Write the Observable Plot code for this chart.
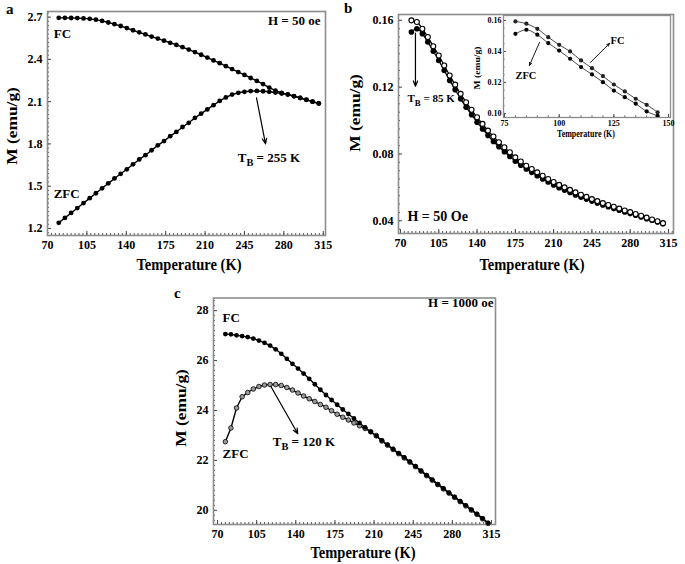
<!DOCTYPE html>
<html><head><meta charset="utf-8">
<script src="https://cdn.jsdelivr.net/npm/d3@7"></script>
<script src="https://cdn.jsdelivr.net/npm/@observablehq/plot@0.6"></script>
<style>
body{margin:0;background:#fff;}
#fig{position:relative;width:685px;height:564px;overflow:hidden;background:#fff;}
.pn{position:absolute;}
</style></head><body><div id="fig"></div>
<script>
// ---------- data ----------
const xTickLabels = [70,105,140,175,210,245,280,315];
const aYTicks = [1.2,1.5,1.8,2.1,2.4,2.7];
const bYTicks = [0.04,0.08,0.12,0.16];
const cYTicks = [20,22,24,26,28];
const insetXTicks = [75,100,125,150];
const insetYTicks = [0.10,0.12,0.14,0.16];

// panel a (H = 50 oe)
const aT = [80,85.5,91,96.5,102,107.5,113,118.5,124,129.5,135,140.5,146,151.5,157,162.5,168,173.5,179,184.5,190,195.5,201,206.5,212,217.5,223,228.5,234,239.5,245,250.5,256,261.5,267,272.5,278,283.5,289,294.5,300,305.5,311];
const aFC = [2.695,2.695,2.694,2.693,2.691,2.688,2.682,2.673,2.662,2.65,2.637,2.622,2.607,2.592,2.577,2.562,2.548,2.533,2.518,2.503,2.487,2.47,2.452,2.433,2.413,2.393,2.373,2.352,2.331,2.31,2.29,2.268,2.247,2.225,2.2,2.178,2.163,2.152,2.14,2.127,2.114,2.1,2.088];
const aZFC = [1.24,1.275,1.31,1.345,1.38,1.415,1.45,1.485,1.52,1.555,1.588,1.62,1.655,1.69,1.72,1.755,1.79,1.82,1.855,1.885,1.92,1.95,1.985,2.015,2.045,2.075,2.105,2.13,2.15,2.163,2.17,2.175,2.176,2.174,2.17,2.165,2.158,2.15,2.138,2.126,2.113,2.1,2.087];

// panel b (H = 50 Oe)
const bT = [80,85,90,95,100,105,110,115,120,125,130,135,140,145,150,155,160,165,170,175,180,185,190,195,200,205,210,215,220,225,230,235,240,245,250,255,260,265,270,275,280,285,290,295,300,305,310];
const bFC = [0.160,0.159,0.155,0.150,0.1445,0.139,0.133,0.127,0.1215,0.116,0.111,0.1065,0.102,0.098,0.094,0.0905,0.087,0.084,0.081,0.078,0.0755,0.073,0.071,0.069,0.067,0.065,0.0632,0.0615,0.060,0.0585,0.057,0.0556,0.0543,0.053,0.0518,0.0506,0.0495,0.0484,0.0473,0.0462,0.0452,0.0441,0.0430,0.0419,0.0408,0.0397,0.0386];
const bZFC = [0.153,0.155,0.152,0.147,0.1415,0.136,0.130,0.124,0.1185,0.113,0.108,0.1035,0.099,0.095,0.091,0.0875,0.0843,0.0813,0.0785,0.0757,0.0733,0.071,0.069,0.067,0.065,0.0632,0.0615,0.0598,0.0583,0.0569,0.0555,0.0542,0.053,0.0518,0.0506,0.0495,0.0484,0.0473,0.0463,0.0453,0.0443,0.0433,0.0423,0.0413,0.0403,0.0393,0.0383];

// inset of panel b
const insetT = [80,85,90,95,100,105,110,115,120,125,130,135,140,145];
const insetFC = [0.1594,0.1579,0.1546,0.1492,0.1443,0.1400,0.1342,0.1292,0.1241,0.1187,0.1142,0.1095,0.1056,0.1008];
const insetZFC = [0.1514,0.1540,0.1508,0.1454,0.1406,0.1353,0.1299,0.1252,0.1202,0.1148,0.1105,0.1063,0.1013,0.0985];

// panel c (H = 1000 oe)
const cT = [77,82,87,92,97,102,107,112,117,122,127,132,137,142,147,152,157,162,167,172,177,182,187,192,197,202,207,212,217,222,227,232,237,242,247,252,257,262,267,272,277,282,287,292,297,302,307,312];
const cFC = [27.06,27.05,27.01,26.98,26.94,26.88,26.8,26.71,26.6,26.45,26.27,26.07,25.87,25.68,25.48,25.27,25.05,24.83,24.62,24.42,24.23,24.04,23.86,23.68,23.5,23.32,23.14,22.97,22.8,22.63,22.46,22.29,22.12,21.95,21.77,21.59,21.41,21.23,21.05,20.88,20.71,20.54,20.37,20.2,20.03,19.86,19.68,19.5];
const cZFC = [22.75,23.3,24.1,24.55,24.72,24.86,24.96,25.02,25.04,25.04,25.0,24.92,24.82,24.7,24.58,24.47,24.36,24.24,24.13,23.99,23.85,23.73,23.62,23.5,23.39,23.28,23.15,23.0,22.78,22.61,22.44,22.27,22.1,21.93,21.75,21.57,21.39,21.21,21.03,20.86,20.69,20.52,20.35,20.18,20.01,19.84,19.66,19.48];

// annotations (data coordinates)
const aLabels = ["FC","ZFC","H = 50 oe","T_B = 255 K"];
const aLabelX = [75.5,75.5,312.5,239];
const aLabelY = [2.58,1.447,2.672,1.70];
const aLabelAnchor = ["start","start","end","start"];
const aArrow = [255.7,2.127,263.7,1.801];

const bLabels = ["T_B = 85 K","H = 50 Oe"];
const bLabelX = [76.4,76.4];
const bLabelY = [0.113,0.0424];
const bLabelSize = [11,14];
const bArrow = [83.7,0.1524,83.7,0.1206];

const insetLabels = ["FC","ZFC"];
const insetLabelX = [123.5,80];
const insetLabelY = [0.1471,0.1245];
const insetArrowFC = [114.3,0.1329,123.0,0.1452];
const insetArrowZFC = [91.0,0.1458,86.4,0.131];

const cLabels = ["FC","ZFC","H = 1000 oe","T_B = 120 K"];
const cLabelX = [74.5,74.5,316.9,119.4];
const cLabelY = [27.72,22.26,28.32,22.75];
const cLabelAnchor = ["start","start","end","start"];
const cArrow = [117.6,24.97,141.8,23.07];

// ---------- helpers ----------
const SERIF = '"Liberation Serif","Times New Roman",Times,serif';
const fig = document.getElementById("fig");
const rows = (T, M) => T.map((t, i) => ({T: t, M: M[i]}));
const labelRows = (L, X, Y, A, S) => L.map((t, i) => ({t, x: X[i], y: Y[i], a: A ? A[i] : "start", s: S ? S[i] : 13}));
const arrowRow = a => [{x1: a[0], y1: a[1], x2: a[2], y2: a[3]}];
const minor = (lo, hi, step) => d3.range(Math.ceil(lo / step - 1e-9), Math.floor(hi / step + 1e-9) + 1).map(k => +(k * step).toFixed(6));

function subscriptify(svg) {
  d3.select(svg).selectAll("text").each(function() {
    const s = this.textContent;
    if (s.startsWith("T_B")) {
      const rest = s.slice(3);
      const sel = d3.select(this);
      sel.text(null);
      sel.append("tspan").text("T");
      sel.append("tspan").attr("dy", 4).attr("font-size", "0.8em").text("B");
      sel.append("tspan").attr("dy", -4).text(rest);
    }
  });
}

function textMarks(rowsArr) {
  const st = rowsArr.filter(d => d.a === "start");
  const en = rowsArr.filter(d => d.a === "end");
  return [
    Plot.text(st, {x: "x", y: "y", text: "t", textAnchor: "start", fontSize: "s", fontWeight: "bold", fill: "#000"}),
    Plot.text(en, {x: "x", y: "y", text: "t", textAnchor: "end", fontSize: "s", fontWeight: "bold", fill: "#000"})
  ];
}

function axesMarks(cfg) {
  const {xTicks, yTicks, xMinor, yMinor, fs, fmtX, fmtY, tickLen = 4, minorLen = 2, padX = 5, padY = 5} = cfg;
  return [
    Plot.axisX({ticks: xMinor, tickSize: -minorLen, text: null, label: null, stroke: "#555"}),
    Plot.axisX({ticks: xTicks, tickSize: -tickLen, text: null, label: null, stroke: "#444"}),
    Plot.axisX({ticks: xTicks, tickSize: 0, tickPadding: padX, label: null, fontSize: fs, fontWeight: "bold", tickFormat: fmtX}),
    Plot.axisY({ticks: yMinor, tickSize: -minorLen, text: null, label: null, stroke: "#555"}),
    Plot.axisY({ticks: yTicks, tickSize: -tickLen, text: null, label: null, stroke: "#444"}),
    Plot.axisY({ticks: yTicks, tickSize: 0, tickPadding: padY, label: null, fontSize: fs, fontWeight: "bold", tickFormat: fmtY})
  ];
}

function place(plot, left, top) {
  const d = document.createElement("div");
  d.className = "pn";
  d.style.left = left + "px";
  d.style.top = top + "px";
  d.appendChild(plot);
  fig.appendChild(d);
  subscriptify(plot);
}

const frameMark = (w = 1.6) => Plot.frame({stroke: "#8c8c8c", strokeWidth: w, fill: "none"});
const baseStyle = fs => ({fontFamily: SERIF, fontWeight: "bold", fontSize: fs + "px", color: "#000", background: "transparent", overflow: "visible"});

// ---------- panel a ----------
{
  const plot = Plot.plot({
    width: 340, height: 280, marginLeft: 47, marginRight: 15, marginTop: 11, marginBottom: 45,
    x: {domain: [70, 317]}, y: {domain: [1.15, 2.74]},
    style: baseStyle(12),
    marks: [
      ...axesMarks({xTicks: xTickLabels, yTicks: aYTicks, xMinor: minor(70, 317, 3.5), yMinor: minor(1.15, 2.74, 0.03), fs: 12, fmtX: d3.format("d"), fmtY: d3.format(".1f")}),
      frameMark(),
      Plot.line(rows(aT, aFC), {x: "T", y: "M", stroke: "#000", strokeWidth: 1.4}),
      Plot.line(rows(aT, aZFC), {x: "T", y: "M", stroke: "#000", strokeWidth: 1.4}),
      Plot.dot(rows(aT, aFC), {x: "T", y: "M", r: 2.4, fill: "#000"}),
      Plot.dot(rows(aT, aZFC), {x: "T", y: "M", r: 2.4, fill: "#000"}),
      Plot.arrow(arrowRow(aArrow), {x1: "x1", y1: "y1", x2: "x2", y2: "y2", stroke: "#000", strokeWidth: 1.2, headLength: 7, headAngle: 45}),
      ...textMarks(labelRows(aLabels, aLabelX, aLabelY, aLabelAnchor))
    ]
  });
  place(plot, 0, 0);
}

// ---------- panel b ----------
{
  const plot = Plot.plot({
    width: 345, height: 280, marginLeft: 58, marginRight: 12, marginTop: 14, marginBottom: 47,
    x: {domain: [68.2, 319.6]}, y: {domain: [0.0324, 0.1635]},
    style: baseStyle(12),
    marks: [
      ...axesMarks({xTicks: xTickLabels, yTicks: bYTicks, xMinor: minor(70, 319, 3.5), yMinor: minor(0.0324, 0.1635, 0.005), fs: 12, fmtX: d3.format("d"), fmtY: d3.format(".2f")}),
      frameMark(),
      Plot.line(rows(bT, bZFC), {x: "T", y: "M", stroke: "#000", strokeWidth: 1.2, curve: "catmull-rom"}),
      Plot.line(rows(bT, bFC), {x: "T", y: "M", stroke: "#000", strokeWidth: 1.2, curve: "catmull-rom"}),
      Plot.dot(rows(bT, bZFC), {x: "T", y: "M", r: 2.8, fill: "#000"}),
      Plot.dot(rows(bT, bFC), {x: "T", y: "M", r: 2.5, fill: "#fff", stroke: "#000", strokeWidth: 1.1}),
      Plot.arrow(arrowRow(bArrow), {x1: "x1", y1: "y1", x2: "x2", y2: "y2", stroke: "#000", strokeWidth: 1.2, headLength: 7, headAngle: 45}),
      ...textMarks(labelRows(bLabels, bLabelX, bLabelY, null, bLabelSize))
    ]
  });
  place(plot, 340, 0);
}

// ---------- inset ----------
{
  const plot = Plot.plot({
    width: 215, height: 140, marginLeft: 38, marginRight: 10, marginTop: 10, marginBottom: 28,
    x: {domain: [74.54, 150.9]}, y: {domain: [0.0974, 0.1632]},
    style: baseStyle(8),
    marks: [
      Plot.frame({fill: "#fff", stroke: null}),
      ...axesMarks({xTicks: insetXTicks, yTicks: insetYTicks, xMinor: minor(75, 150, 5), yMinor: minor(0.098, 0.163, 0.005), fs: 8, fmtX: d3.format("d"), fmtY: d3.format(".2f"), tickLen: 3, minorLen: 1.5, padX: 3, padY: 2}),
      frameMark(1.3),
      Plot.line(rows(insetT, insetFC), {x: "T", y: "M", stroke: "#333", strokeWidth: 0.9, curve: "catmull-rom", clip: true}),
      Plot.line(rows(insetT, insetZFC), {x: "T", y: "M", stroke: "#333", strokeWidth: 0.9, curve: "catmull-rom", clip: true}),
      Plot.dot(rows(insetT, insetFC), {x: "T", y: "M", r: 2.1, fill: "#222", clip: true}),
      Plot.dot(rows(insetT, insetZFC), {x: "T", y: "M", r: 2.1, fill: "#000", clip: true}),
      Plot.arrow(arrowRow(insetArrowFC), {x1: "x1", y1: "y1", x2: "x2", y2: "y2", stroke: "#000", strokeWidth: 0.9, headLength: 5, headAngle: 45}),
      Plot.arrow(arrowRow(insetArrowZFC), {x1: "x1", y1: "y1", x2: "x2", y2: "y2", stroke: "#000", strokeWidth: 0.9, headLength: 5, headAngle: 45}),
      ...textMarks(labelRows(insetLabels, insetLabelX, insetLabelY, null, [10.5, 10.5]))
    ]
  });
  place(plot, 465, 5);
}

// ---------- panel c ----------
{
  const plot = Plot.plot({
    width: 340, height: 279, marginLeft: 43, marginRight: 15, marginTop: 12.5, marginBottom: 40,
    x: {domain: [66.4, 318.6]}, y: {domain: [19.434, 28.505]},
    style: baseStyle(12),
    marks: [
      ...axesMarks({xTicks: xTickLabels, yTicks: cYTicks, xMinor: minor(70, 318, 3.5), yMinor: minor(19.5, 28.5, 0.2), fs: 12, fmtX: d3.format("d"), fmtY: d3.format("d")}),
      frameMark(),
      Plot.line(rows(cT, cZFC), {x: "T", y: "M", stroke: "#000", strokeWidth: 1.4}),
      Plot.line(rows(cT, cFC), {x: "T", y: "M", stroke: "#000", strokeWidth: 1.4}),
      Plot.dot(rows(cT, cZFC), {x: "T", y: "M", r: 2.3, fill: "#9a9a9a", stroke: "#000", strokeWidth: 0.8}),
      Plot.dot(rows(cT, cFC), {x: "T", y: "M", r: 2.4, fill: "#000"}),
      Plot.arrow(arrowRow(cArrow), {x1: "x1", y1: "y1", x2: "x2", y2: "y2", stroke: "#000", strokeWidth: 1.2, headLength: 7, headAngle: 45}),
      ...textMarks(labelRows(cLabels, cLabelX, cLabelY, cLabelAnchor))
    ]
  });
  place(plot, 170, 285);
}

// ---------- overlay: axis titles & panel letters ----------
{
  const ov = d3.select(fig).append("svg")
    .attr("width", 685).attr("height", 564)
    .style("position", "absolute").style("left", 0).style("top", 0).style("pointer-events", "none")
    .attr("font-family", SERIF).attr("font-weight", "bold").attr("fill", "#000");
  const SY = 1.2;
  const title = (x, y, t, size, rot) => ov.append("text")
    .attr("transform", `translate(${x},${y}) scale(1,${SY})${rot ? " rotate(-90)" : ""}`)
    .attr("text-anchor", "middle").attr("dominant-baseline", "central")
    .attr("font-size", size).text(t);
  title(189, 264, "Temperature (K)", 14.5);
  title(12, 126, "M (emu/g)", 14.5, true);
  title(532, 264, "Temperature (K)", 14.5);
  title(355, 113, "M (emu/g)", 14.5, true);
  title(363, 552, "Temperature (K)", 14.5);
  title(181, 408, "M (emu/g)", 14.5, true);
  title(586, 134, "Temperature (K)", 8);
  title(477, 68, "M (emu/g)", 8, true);
  const letter = (x, y, t) => ov.append("text").attr("x", x).attr("y", y).attr("font-size", 15).text(t);
  letter(6, 14, "a");
  letter(344, 13, "b");
  letter(174, 298, "c");
}
</script></body></html>
